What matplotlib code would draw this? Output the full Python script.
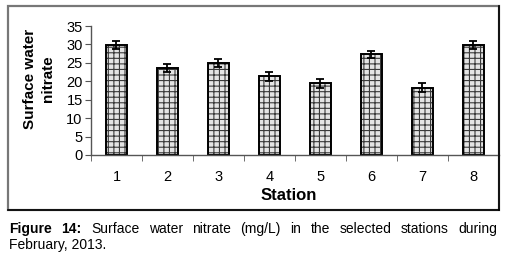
import matplotlib
matplotlib.use('Agg')

import matplotlib.pyplot as plt
from matplotlib.patches import Rectangle

estacoes = ['1', '2', '3', '4', '5', '6', '7', '8']
nitrato = [29.8, 23.6, 25.0, 21.3, 19.4, 27.3, 18.3, 29.8]
erro = [1.1, 1.1, 1.0, 1.1, 1.1, 1.0, 1.1, 1.1]
yticks = [0, 5, 10, 15, 20, 25, 30, 35]

plt.rcParams['font.family'] = ['Liberation Sans', 'DejaVu Sans']
plt.rcParams['hatch.linewidth'] = 0.8
plt.rcParams['hatch.color'] = '#3a3a3a'

W, H = 506, 254
fig = plt.figure(figsize=(W / 100, H / 100), dpi=100)

# moldura do grafico
fig.patches.append(Rectangle((8 / W, 1 - 210 / H), 491 / W, 204 / H,
                             transform=fig.transFigure, fill=False,
                             edgecolor='#777777', lw=1.6))
fig.lines.append(plt.Line2D([499 / W, 499 / W], [1 - 210 / H, 1 - 6 / H],
                            transform=fig.transFigure, color='black', lw=1.2))
fig.lines.append(plt.Line2D([8 / W, 499 / W], [1 - 210 / H, 1 - 210 / H],
                            transform=fig.transFigure, color='black', lw=1.2))

ax = fig.add_axes([91 / W, 1 - 155 / H, 408 / W, 129 / H])
x = list(range(len(estacoes)))
ax.bar(x, nitrato, width=0.4, color='#e4e4e4', hatch='+++',
       edgecolor='#3a3a3a', lw=0)
ax.bar(x, nitrato, width=0.4, fill=False, edgecolor='black', lw=1.4)
ax.errorbar(x, nitrato, yerr=erro, fmt='none', ecolor='black',
            elinewidth=1.3, capsize=3, capthick=1.3)

ax.set_xlim(-0.5, len(estacoes) - 0.5)
ax.set_ylim(0, 35)
ax.set_yticks(yticks)
ax.set_xticks(x)
ax.set_xticklabels(estacoes)
ax.set_xticks([i + 0.5 for i in range(-1, len(estacoes))], minor=True)
ax.tick_params(axis='x', which='major', length=0, pad=11, labelsize=10.5)
ax.tick_params(axis='x', which='minor', length=4, color='#555555', direction='out')
ax.tick_params(axis='y', length=4, color='#555555', labelsize=10.5, pad=2)
for s in ['top', 'right']:
    ax.spines[s].set_visible(False)
for s in ['left', 'bottom']:
    ax.spines[s].set_color('#555555')
    ax.spines[s].set_linewidth(1.0)

fig.text(289 / W, 1 - 195 / H, 'Station', ha='center', va='center',
         fontsize=12, fontweight='bold')
fig.text(39 / W, 1 - 79 / H, 'Surface water\nnitrate', ha='center', va='center',
         rotation=90, fontsize=11, fontweight='bold', linespacing=1.45)

# legenda justificada
fig.canvas.draw()
r = fig.canvas.get_renderer()
palavras = [('Figure', 'bold'), ('14:', 'bold'), ('Surface', 'normal'),
            ('water', 'normal'), ('nitrate', 'normal'), ('(mg/L)', 'normal'),
            ('in', 'normal'), ('the', 'normal'), ('selected', 'normal'),
            ('stations', 'normal'), ('during', 'normal')]
y1 = 1 - 229 / H
objs = []
larg = 0
for p, w in palavras:
    t = fig.text(0, y1, p, fontsize=10, fontweight=w, va='center', ha='left')
    bb = t.get_window_extent(r)
    objs.append((t, bb.width))
    larg += bb.width
esp = (497 - 9 - larg) / (len(palavras) - 1)
xpos = 9
for t, wd in objs:
    t.set_x(xpos / W)
    xpos += wd + esp
fig.text(9 / W, 1 - 245 / H, 'February, 2013.', fontsize=10, va='center', ha='left')

fig.savefig('out.png', dpi=100)
